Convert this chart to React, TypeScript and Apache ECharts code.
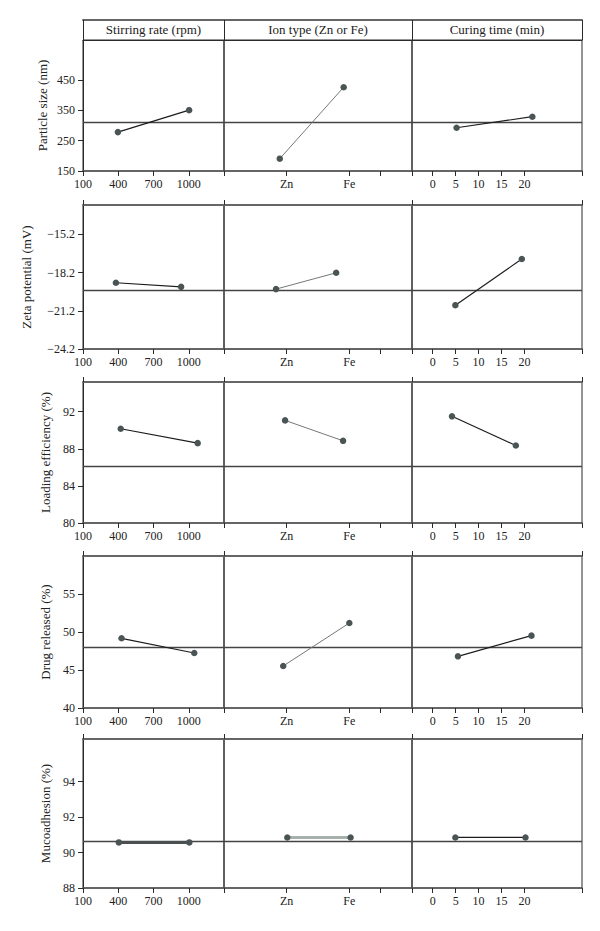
import React, { useEffect, useRef } from 'react';
import * as echarts from 'echarts';

// ---------- data ----------
const factors = ['Stirring rate (rpm)', 'Ion type (Zn or Fe)', 'Curing time (min)'];
const responses = ['Particle size (nm)', 'Zeta potential (mV)', 'Loading efficiency (%)', 'Drug released (%)', 'Mucoadhesion (%)'];

// level positions on each factor axis (per response row)
const stirringX = [[397, 1003], [380, 935], [421, 1076], [428, 1047], [405, 1005]];
const ionX = [[0.89, 1.91], [0.83, 1.79], [0.975, 1.9], [0.945, 2.0], [1.01, 2.02]];
const curingX = [[5.2, 21.7], [4.94, 19.4], [4.2, 18.1], [5.5, 21.5], [4.94, 20.2]];

// mean response at each level
const stirringY = [[278.6, 351], [-19.0, -19.32], [90.16, 88.61], [49.17, 47.24], [90.57, 90.57]];
const ionY = [[190.7, 427], [-19.5, -18.22], [91.06, 88.86], [45.53, 51.18], [90.85, 90.85]];
const curingY = [[293, 329.5], [-20.76, -17.14], [91.5, 88.36], [46.8, 49.52], [90.85, 90.85]];
const grandMeans = [310, -19.58, 86.13, 47.98, 90.66];

// y axes
const yMin = [150, -24.2, 80, 40, 88];
const yMax = [583, -12.9, 95.2, 60, 96.4];
const yTicks = [[150, 250, 350, 450], [-24.2, -21.2, -18.2, -15.2], [80, 84, 88, 92], [40, 45, 50, 55], [88, 90, 92, 94]];
const yDecimals = [0, 1, 0, 0, 0];

// x axes
const stirringRange = [100, 1300];
const stirringTicks = [100, 400, 700, 1000, 1300];
const stirringLabels = [100, 400, 700, 1000];
const ionRange = [0, 3];
const ionTicks = [0, 1, 2, 2.5, 3];
const ionLabelValues = [1, 2];
const ionLevels = ['Zn', 'Fe'];
const curingRange = [-4.5, 32.5];
const curingTicks = [-4.5, 0, 5, 10, 15, 20, 32.5];
const curingLabels = [0, 5, 10, 15, 20];

// ---------- layout ----------
const colLeft = [83, 224, 412];
const colRight = [224, 412, 582];
const rowTop = [40, 205, 382, 556, 739];
const rowBottom = [171, 349, 523, 708, 888];
const headerTop = 20;
const nameGaps = [34, 50, 31, 31, 31];

const FONT = 'Liberation Serif';
const DARK = '#2a2a2a';

export default function App() {
  const ref = useRef<HTMLDivElement>(null);
  useEffect(() => {
    document.body.style.margin = '0';
    const chart = echarts.init(ref.current!, undefined, { renderer: 'svg' });
    const grids: any[] = [];
    const xAxes: any[] = [];
    const yAxes: any[] = [];
    const series: any[] = [];

    const xs = [stirringX, ionX, curingX];
    const ys = [stirringY, ionY, curingY];
    const ranges = [stirringRange, ionRange, curingRange];
    const ticks = [stirringTicks, ionTicks, curingTicks];
    const labelVals = [stirringLabels, ionLabelValues, curingLabels];
    const lineColors = [
      ['#1c1c1c', '#777', '#1c1c1c'],
      ['#1c1c1c', '#777', '#1c1c1c'],
      ['#1c1c1c', '#777', '#1c1c1c'],
      ['#1c1c1c', '#777', '#1c1c1c'],
      ['#4a4f4f', '#a8b0ae', '#1c1c1c'],
    ];
    const lineWidths = [
      [1.2, 1, 1.2],
      [1.2, 1, 1.2],
      [1.2, 1, 1.2],
      [1.2, 1, 1.2],
      [3, 3, 1.3],
    ];

    for (let r = 0; r < 5; r++) {
      for (let c = 0; c < 3; c++) {
        const gi = grids.length;
        grids.push({
          left: colLeft[c],
          width: colRight[c] - colLeft[c],
          top: rowTop[r],
          height: rowBottom[r] - rowTop[r],
          show: true,
          borderColor: DARK,
          borderWidth: 1,
          backgroundColor: 'transparent',
        });
        const bottomIdx = xAxes.length;
        xAxes.push({
          type: 'value',
          gridIndex: gi,
          position: 'bottom',
          min: ranges[c][0],
          max: ranges[c][1],
          splitLine: { show: false },
          axisLine: { show: true, lineStyle: { color: '#555', width: 1.5 } },
          axisTick: {
            show: true,
            inside: false,
            length: 5,
            customValues: ticks[c],
            lineStyle: { color: DARK, width: 1 },
          },
          axisLabel: {
            show: true,
            customValues: labelVals[c],
            margin: 7,
            fontFamily: FONT,
            fontSize: 12,
            color: '#222',
            formatter: (v: number) => {
              if (c === 1) return ionLevels[Math.round(v) - 1];
              return String(v);
            },
          },
        });
        // top axis line (with short boundary ticks)
        xAxes.push({
          type: 'value',
          gridIndex: gi,
          position: 'top',
          min: ranges[c][0],
          max: ranges[c][1],
          splitLine: { show: false },
          axisLine: { show: true, lineStyle: { color: r === 0 ? DARK : '#666', width: r === 0 ? 1 : 2 } },
          axisTick: {
            show: true,
            inside: false,
            length: r === 0 ? rowTop[0] - headerTop : 5,
            customValues: ranges[c],
            lineStyle: { color: DARK, width: 1 },
          },
          axisLabel: { show: false },
          name: r === 0 ? factors[c] : '',
          nameLocation: 'middle',
          nameGap: 4,
          nameTextStyle: { fontFamily: FONT, fontSize: 13, color: '#222' },
        });
        if (r === 0) {
          xAxes.push({
            type: 'value',
            gridIndex: gi,
            position: 'top',
            offset: rowTop[0] - headerTop,
            min: ranges[c][0],
            max: ranges[c][1],
            splitLine: { show: false },
            axisLine: { show: true, lineStyle: { color: '#666', width: 2 } },
            axisTick: { show: false },
            axisLabel: { show: false },
          });
        }
        const yi = yAxes.length;
        yAxes.push({
          type: 'value',
          gridIndex: gi,
          min: yMin[r],
          max: yMax[r],
          show: c === 0,
          splitLine: { show: false },
          axisLine: { show: true, lineStyle: { color: DARK, width: 1 } },
          axisTick: {
            show: true,
            inside: false,
            length: 5,
            customValues: yTicks[r],
            lineStyle: { color: DARK },
          },
          axisLabel: {
            customValues: yTicks[r],
            margin: 8,
            fontFamily: FONT,
            fontSize: 12,
            color: '#222',
            formatter: (v: number) => v.toFixed(yDecimals[r]).replace('-', '\u2212'),
          },
          name: c === 0 ? responses[r] : '',
          nameLocation: 'middle',
          nameGap: nameGaps[r],
          nameTextStyle: { fontFamily: FONT, fontSize: 13, color: '#222' },
        });
        series.push({
          type: 'line',
          xAxisIndex: bottomIdx,
          yAxisIndex: yi,
          data: xs[c][r].map((x, k) => [x, ys[c][r][k]]),
          symbol: 'circle',
          symbolSize: 6.5,
          itemStyle: { color: '#4b5454' },
          lineStyle: { color: lineColors[r][c], width: lineWidths[r][c] },
          z: 3,
          markLine: {
            silent: true,
            symbol: 'none',
            label: { show: false },
            lineStyle: { color: '#444', width: 1.3, type: 'solid' },
            data: [{ yAxis: grandMeans[r] }],
            z: 2,
          },
        });
      }
    }

    chart.setOption({
      animation: false,
      backgroundColor: '#fff',
      grid: grids,
      xAxis: xAxes,
      yAxis: yAxes,
      series,
    });
    return () => chart.dispose();
  }, []);
  return <div ref={ref} style={{ width: 600, height: 931 }} />;
}
